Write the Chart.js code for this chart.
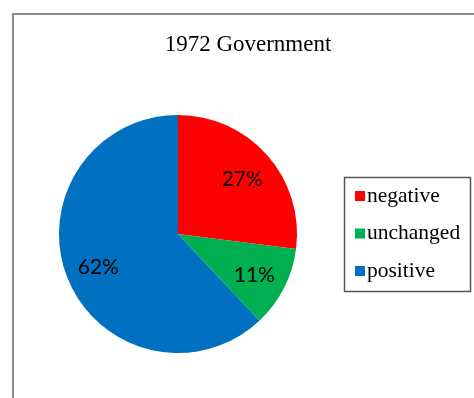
<!DOCTYPE html>
<html>
<head>
<meta charset="utf-8">
<script src="https://cdn.jsdelivr.net/npm/chart.js@4"></script>
<style>
  html, body { margin: 0; padding: 0; background: #fff; overflow: hidden; }
  #wrap { position: relative; width: 474px; height: 398px; }
  #frame { position: absolute; left: 12px; top: 13px; width: 480px; height: 400px; border: 2px solid #8a8a8a; box-sizing: border-box; }
  canvas { position: absolute; left: 0; top: 0; }
</style>
</head>
<body>
<div id="wrap">
  <div id="frame"></div>
  <canvas id="chartGobierno" width="474" height="398"></canvas>
</div>
<script>
// datos del grafico
const titulo = "1972 Government"
const categorias = ["negative", "unchanged", "positive"]
const valores = [27, 11, 62]
const colores = ["#FF0000", "#00B050", "#0070C0"]

// titulo, etiquetas de porcentaje y leyenda con recuadro
const extras = {
  id: "extras",
  afterDraw(chart) {
    const ctx = chart.ctx
    const total = valores.reduce((a, b) => a + b, 0)
    ctx.save()

    ctx.fillStyle = "#000"
    ctx.textAlign = "center"
    ctx.textBaseline = "middle"
    ctx.font = "23px 'Liberation Serif', 'Times New Roman', serif"
    ctx.fillText(titulo, 248, 45)

    ctx.font = "21px Lato, 'Open Sans', sans-serif"
    chart.getDatasetMeta(0).data.forEach((arc, i) => {
      const p = arc.getProps(["x", "y", "startAngle", "endAngle", "outerRadius"], true)
      const mid = (p.startAngle + p.endAngle) / 2
      const r = p.outerRadius * 0.72
      const txt = Math.round((valores[i] / total) * 100) + "%"
      ctx.fillText(txt, p.x + Math.cos(mid) * r, p.y + Math.sin(mid) * r + 2)
    })

    // leyenda
    ctx.strokeStyle = "#555"
    ctx.lineWidth = 1.5
    ctx.strokeRect(344.5, 177.5, 126, 114)
    ctx.textAlign = "left"
    ctx.font = "21.5px 'Liberation Serif', 'Times New Roman', serif"
    categorias.forEach((c, i) => {
      const y = 196 + i * 37.5
      ctx.fillStyle = colores[i]
      ctx.fillRect(355, y - 5, 10, 10)
      ctx.fillStyle = "#000"
      ctx.fillText(c, 367, y)
    })
    ctx.restore()
  },
}

new Chart(document.getElementById("chartGobierno"), {
  type: "pie",
  data: {
    labels: categorias,
    datasets: [
      {
        data: valores,
        backgroundColor: colores,
        borderWidth: 0,
      },
    ],
  },
  options: {
    responsive: false,
    animation: false,
    layout: { padding: { left: 59, right: 177, top: 115, bottom: 45 } },
    plugins: {
      legend: { display: false },
      tooltip: { enabled: false },
    },
  },
  plugins: [extras],
})
</script>
</body>
</html>
